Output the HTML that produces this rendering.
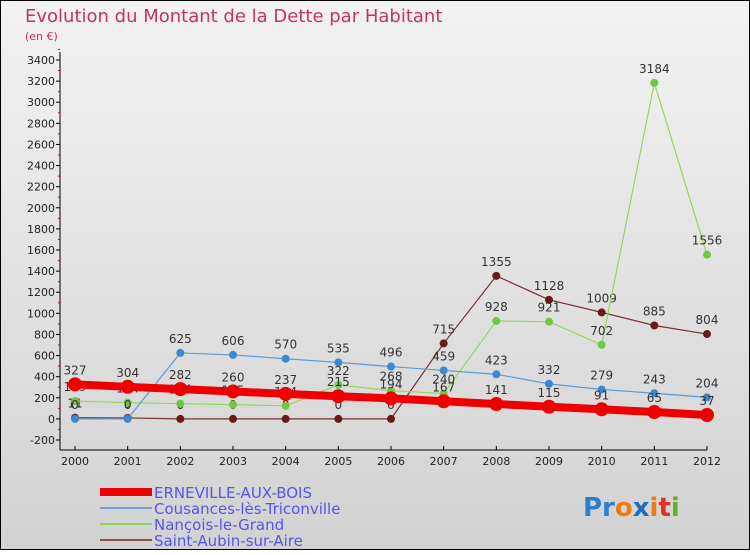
<!DOCTYPE html>
<html><head><meta charset="utf-8"><style>
body{margin:0;width:750px;height:550px;overflow:hidden}
svg{font-family:"DejaVu Sans","Liberation Sans",sans-serif}
</style></head><body>
<svg id="c" width="750" height="550" xmlns="http://www.w3.org/2000/svg">
<defs><linearGradient id="bg" x1="0" y1="0" x2="0" y2="1"><stop offset="0" stop-color="#f2f2f2"/><stop offset="1" stop-color="#d2d2d2"/></linearGradient></defs>
<rect x="0.5" y="0.5" width="749" height="549" fill="url(#bg)" stroke="#000"/>
<text x="25" y="22" font-size="18" fill="#c8306a">Evolution du Montant de la Dette par Habitant</text>
<text x="25" y="40" font-size="11" fill="#c8306a">(en €)</text>
<g id="axes"></g><g id="series"></g>
<g font-size="15" fill="#5555ee">
<rect x="100" y="488" width="52" height="8" fill="#e00"/>
<text x="154" y="498">ERNEVILLE-AUX-BOIS</text>
<rect x="100" y="507" width="52" height="2" fill="#6ea0d0"/>
<text x="154" y="514">Cousances-lès-Triconville</text>
<rect x="100" y="523" width="52" height="2" fill="#8ad060"/>
<text x="154" y="530">Nançois-le-Grand</text>
<rect x="100" y="539" width="52" height="2" fill="#8a5050"/>
<text x="154" y="546">Saint-Aubin-sur-Aire</text>
</g>
<text x="583" y="516" font-size="26" font-weight="bold"><tspan fill="#2a7fd0">Pr</tspan><tspan fill="#f07a10">o</tspan><tspan fill="#1a6fc0">x</tspan><tspan fill="#f07a10">i</tspan><tspan fill="#e03020">t</tspan><tspan fill="#60b030">i</tspan></text>
</svg>
<script>
const years=[2000,2001,2002,2003,2004,2005,2006,2007,2008,2009,2010,2011,2012];
const yTicks=[-200,0,200,400,600,800,1000,1200,1400,1600,1800,2000,2200,2400,2600,2800,3000,3200,3400];
const erneville=[327,304,282,260,237,215,194,167,141,115,91,65,37];
const cousances=[0,0,625,606,570,535,496,459,423,332,279,243,204];
const nancois=[169,154,144,135,124,322,268,240,928,921,702,3184,1556];
const saintAubin=[11,9,0,0,0,0,0,715,1355,1128,1009,885,804];
const NS="http://www.w3.org/2000/svg";
const X=i=>75+i*(707-75)/(years.length-1);
const Y=v=>418.9-v*(380/3600);
function mk(t,a,p){const e=document.createElementNS(NS,t);for(const k in a)e.setAttribute(k,a[k]);p.appendChild(e);return e;}
const ax=document.getElementById('axes');
mk('line',{x1:60,y1:52,x2:60,y2:450,stroke:'#000','stroke-width':1},ax);
mk('line',{x1:60,y1:450,x2:707,y2:450,stroke:'#000','stroke-width':1},ax);
yTicks.forEach(v=>{
 const l=mk('line',{x1:56,x2:60,y1:Y(v),y2:Y(v),stroke:'#000'},ax);
 
 
 const m=mk('line',{x1:58,x2:60,y1:Y(v+100),y2:Y(v+100),stroke:'#e00'},ax);
 
 
 const t=mk('text',{x:55,y:Y(v)+4,'font-size':11,'text-anchor':'end',fill:'#222'},ax);
 t.textContent=v;
 
 
});
years.forEach((y,i)=>{
 const l=mk('line',{x1:X(i),x2:X(i),y1:446,y2:450,stroke:'#000'},ax);
 
 
 const t=mk('text',{x:X(i),y:465,'font-size':11,'text-anchor':'middle',fill:'#222'},ax);
 t.textContent=y;
 
 
});
const sg=document.getElementById('series');
function series(name,vals,color,w,r,dot){
 const g=mk('g',{},sg);
 
 
 const p=mk('polyline',{points:vals.map((v,i)=>X(i)+','+Y(v)).join(' '),fill:'none',stroke:color,'stroke-width':w},g);
 
 
 vals.forEach((v,i)=>{
  const c=mk('circle',{cx:X(i),cy:Y(v),r:r,fill:dot},g);
  
  
  const t=mk('text',{x:X(i),y:Y(v)-10,'font-size':12,'text-anchor':'middle',fill:'#333'},g);
  t.textContent=v;
  
  
 });
}
series('saint-aubin',saintAubin,'#7a3030',1.2,4,'#6a1a1a');
series('nancois',nancois,'#90d860',1.2,4,'#70c840');
series('cousances',cousances,'#5a9ad8',1.2,4,'#3a88d0');
series('erneville',erneville,'#ee0000',8,7,'#ee0000');
</script>
</body></html>
